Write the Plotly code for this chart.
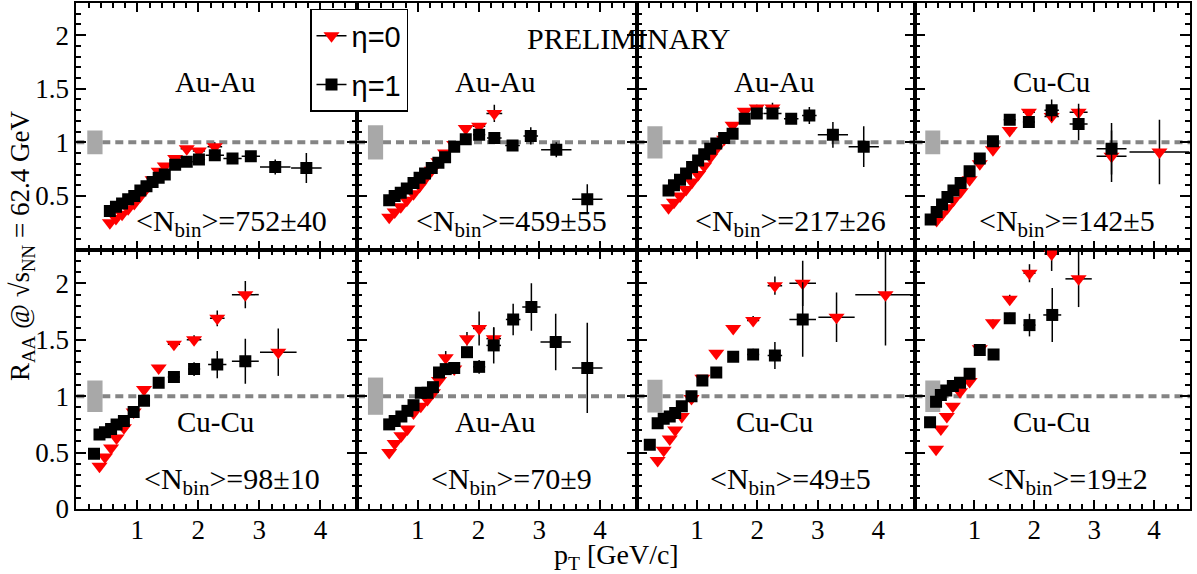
import plotly.graph_objects as go

# ---------------- data ----------------
SYSTEMS = ["Au-Au", "Au-Au", "Au-Au", "Cu-Cu", "Cu-Cu", "Au-Au", "Cu-Cu", "Cu-Cu"]
NBIN_LABELS = ["752±40", "459±55", "217±26", "142±5", "98±10", "70±9", "49±5", "19±2"]
NORM_UNC = [0.11, 0.16, 0.15, 0.11, 0.14, 0.165, 0.145, 0.14]

# panel 1 : Au-Au <Nbin>=752
eta1_pt_1 = [0.55, 0.65, 0.75, 0.85, 0.95, 1.05, 1.15, 1.25, 1.35, 1.45, 1.62, 1.81, 2.01, 2.27, 2.56, 2.86, 3.26, 3.77]
eta1_r_1 = [0.36, 0.40, 0.43, 0.47, 0.50, 0.55, 0.59, 0.63, 0.67, 0.70, 0.79, 0.82, 0.84, 0.88, 0.85, 0.87, 0.77, 0.76]
eta1_ex_1 = [0.05, 0.05, 0.05, 0.05, 0.05, 0.05, 0.05, 0.05, 0.05, 0.05, 0.08, 0.10, 0.10, 0.15, 0.15, 0.15, 0.25, 0.25]
eta1_ey_1 = [0.01, 0.01, 0.01, 0.01, 0.01, 0.01, 0.01, 0.01, 0.01, 0.01, 0.02, 0.02, 0.03, 0.03, 0.02, 0.05, 0.07, 0.14]
eta0_pt_1 = [0.55, 0.65, 0.75, 0.85, 0.95, 1.05, 1.15, 1.25, 1.35, 1.45, 1.62, 1.81, 2.01, 2.27]
eta0_r_1 = [0.25, 0.29, 0.33, 0.38, 0.43, 0.50, 0.57, 0.65, 0.73, 0.78, 0.85, 0.94, 0.92, 0.96]
eta0_ex_1 = [0.05, 0.05, 0.05, 0.05, 0.05, 0.05, 0.05, 0.05, 0.05, 0.05, 0.08, 0.10, 0.10, 0.12]
eta0_ey_1 = [0.01, 0.01, 0.01, 0.01, 0.01, 0.01, 0.01, 0.01, 0.01, 0.01, 0.02, 0.02, 0.02, 0.04]

# panel 2 : Au-Au <Nbin>=459
eta1_pt_2 = [0.53, 0.62, 0.72, 0.82, 0.93, 1.03, 1.12, 1.23, 1.34, 1.45, 1.60, 1.79, 2.01, 2.26, 2.56, 2.86, 3.28, 3.79]
eta1_r_2 = [0.46, 0.50, 0.53, 0.57, 0.62, 0.67, 0.71, 0.76, 0.81, 0.86, 0.96, 1.03, 1.07, 1.04, 0.97, 1.06, 0.93, 0.47]
eta1_ex_2 = [0.05, 0.05, 0.05, 0.05, 0.05, 0.05, 0.05, 0.05, 0.05, 0.05, 0.05, 0.08, 0.10, 0.12, 0.12, 0.12, 0.25, 0.25]
eta1_ey_2 = [0.01, 0.01, 0.01, 0.01, 0.01, 0.01, 0.01, 0.01, 0.01, 0.01, 0.02, 0.02, 0.03, 0.03, 0.03, 0.08, 0.07, 0.14]
eta0_pt_2 = [0.53, 0.62, 0.72, 0.82, 0.93, 1.03, 1.12, 1.23, 1.34, 1.45, 1.60, 1.79, 2.01, 2.26]
eta0_r_2 = [0.30, 0.35, 0.40, 0.46, 0.52, 0.59, 0.66, 0.74, 0.82, 0.90, 0.98, 1.13, 1.15, 1.27]
eta0_ex_2 = [0.05, 0.05, 0.05, 0.05, 0.05, 0.05, 0.05, 0.05, 0.05, 0.05, 0.05, 0.08, 0.10, 0.13]
eta0_ey_2 = [0.01, 0.01, 0.01, 0.01, 0.01, 0.01, 0.01, 0.01, 0.01, 0.01, 0.02, 0.02, 0.03, 0.08]

# panel 3 : Au-Au <Nbin>=217
eta1_pt_3 = [0.53, 0.62, 0.72, 0.82, 0.92, 1.02, 1.12, 1.22, 1.32, 1.45, 1.59, 1.79, 1.99, 2.25, 2.56, 2.86, 3.25, 3.76]
eta1_r_3 = [0.55, 0.60, 0.65, 0.71, 0.77, 0.83, 0.89, 0.94, 0.99, 1.04, 1.08, 1.22, 1.27, 1.27, 1.22, 1.25, 1.07, 0.96]
eta1_ex_3 = [0.05, 0.05, 0.05, 0.05, 0.05, 0.05, 0.05, 0.05, 0.05, 0.05, 0.05, 0.08, 0.10, 0.15, 0.12, 0.12, 0.25, 0.25]
eta1_ey_3 = [0.01, 0.01, 0.01, 0.01, 0.01, 0.01, 0.01, 0.01, 0.01, 0.01, 0.02, 0.02, 0.03, 0.03, 0.04, 0.08, 0.12, 0.19]
eta0_pt_3 = [0.53, 0.62, 0.72, 0.82, 0.92, 1.02, 1.12, 1.22, 1.32, 1.45, 1.59, 1.79, 1.99, 2.25]
eta0_r_3 = [0.39, 0.44, 0.50, 0.56, 0.63, 0.70, 0.78, 0.86, 0.94, 1.03, 1.16, 1.29, 1.32, 1.32]
eta0_ex_3 = [0.05, 0.05, 0.05, 0.05, 0.05, 0.05, 0.05, 0.05, 0.05, 0.05, 0.05, 0.08, 0.10, 0.12]
eta0_ey_3 = [0.01, 0.01, 0.01, 0.01, 0.01, 0.01, 0.01, 0.01, 0.01, 0.01, 0.02, 0.02, 0.03, 0.05]

# panel 4 : Cu-Cu <Nbin>=142
eta1_pt_4 = [0.27, 0.37, 0.46, 0.55, 0.65, 0.77, 0.92, 1.09, 1.31, 1.59, 1.91, 2.29, 2.74, 3.29]
eta1_r_4 = [0.28, 0.35, 0.42, 0.49, 0.55, 0.62, 0.73, 0.85, 1.01, 1.21, 1.19, 1.30, 1.17, 0.94]
eta1_ex_4 = [0.05, 0.05, 0.05, 0.05, 0.05, 0.05, 0.05, 0.05, 0.05, 0.10, 0.10, 0.12, 0.15, 0.25]
eta1_ey_4 = [0.01, 0.01, 0.01, 0.01, 0.01, 0.01, 0.01, 0.01, 0.02, 0.02, 0.03, 0.10, 0.15, 0.24]
eta0_pt_4 = [0.37, 0.46, 0.55, 0.65, 0.77, 0.92, 1.09, 1.31, 1.59, 1.91, 2.29, 2.74, 3.29, 4.09]
eta0_r_4 = [0.27, 0.33, 0.39, 0.46, 0.54, 0.65, 0.80, 0.93, 1.11, 1.28, 1.24, 1.28, 0.87, 0.91]
eta0_ex_4 = [0.05, 0.05, 0.05, 0.05, 0.05, 0.05, 0.05, 0.05, 0.08, 0.10, 0.12, 0.15, 0.25, 0.50]
eta0_ey_4 = [0.01, 0.01, 0.01, 0.01, 0.01, 0.01, 0.01, 0.02, 0.02, 0.03, 0.05, 0.08, 0.24, 0.30]

# panel 5 : Cu-Cu <Nbin>=98
eta1_pt_5 = [0.29, 0.38, 0.47, 0.57, 0.66, 0.78, 0.94, 1.11, 1.35, 1.60, 1.93, 2.31, 2.77]
eta1_r_5 = [0.49, 0.66, 0.68, 0.71, 0.75, 0.78, 0.86, 0.96, 1.12, 1.17, 1.24, 1.28, 1.31]
eta1_ex_5 = [0.05, 0.05, 0.05, 0.05, 0.05, 0.05, 0.05, 0.05, 0.05, 0.10, 0.10, 0.15, 0.22]
eta1_ey_5 = [0.01, 0.01, 0.01, 0.01, 0.01, 0.01, 0.01, 0.02, 0.02, 0.03, 0.06, 0.12, 0.20]
eta0_pt_5 = [0.38, 0.47, 0.57, 0.66, 0.78, 0.94, 1.11, 1.35, 1.60, 1.93, 2.31, 2.77, 3.31]
eta0_r_5 = [0.38, 0.46, 0.54, 0.63, 0.72, 0.86, 1.06, 1.25, 1.46, 1.50, 1.69, 1.90, 1.39]
eta0_ex_5 = [0.05, 0.05, 0.05, 0.05, 0.05, 0.05, 0.05, 0.05, 0.10, 0.12, 0.12, 0.22, 0.30]
eta0_ey_5 = [0.01, 0.01, 0.01, 0.01, 0.01, 0.01, 0.02, 0.02, 0.03, 0.04, 0.07, 0.12, 0.21]

# panel 6 : Au-Au <Nbin>=70
eta1_pt_6 = [0.53, 0.62, 0.73, 0.83, 0.93, 1.05, 1.16, 1.25, 1.35, 1.46, 1.60, 1.81, 2.01, 2.25, 2.57, 2.87, 3.27, 3.79]
eta1_r_6 = [0.75, 0.78, 0.82, 0.87, 0.92, 1.03, 1.03, 1.08, 1.21, 1.24, 1.25, 1.39, 1.26, 1.45, 1.68, 1.79, 1.48, 1.25]
eta1_ex_6 = [0.05, 0.05, 0.05, 0.05, 0.05, 0.05, 0.05, 0.05, 0.05, 0.05, 0.08, 0.08, 0.10, 0.12, 0.12, 0.15, 0.25, 0.25]
eta1_ey_6 = [0.01, 0.01, 0.01, 0.01, 0.01, 0.01, 0.01, 0.02, 0.02, 0.02, 0.03, 0.04, 0.06, 0.16, 0.14, 0.21, 0.25, 0.40]
eta0_pt_6 = [0.53, 0.62, 0.73, 0.83, 0.93, 1.05, 1.16, 1.25, 1.35, 1.46, 1.60, 1.81, 2.01, 2.25]
eta0_r_6 = [0.50, 0.58, 0.65, 0.71, 0.85, 0.91, 0.97, 1.03, 1.14, 1.34, 1.24, 1.51, 1.60, 1.51]
eta0_ex_6 = [0.05, 0.05, 0.05, 0.05, 0.05, 0.05, 0.05, 0.05, 0.05, 0.05, 0.08, 0.08, 0.10, 0.12]
eta0_ey_6 = [0.01, 0.01, 0.01, 0.01, 0.01, 0.01, 0.01, 0.02, 0.02, 0.06, 0.03, 0.06, 0.15, 0.10]

# panel 7 : Cu-Cu <Nbin>=49
eta1_pt_7 = [0.22, 0.35, 0.45, 0.55, 0.64, 0.75, 0.91, 1.09, 1.32, 1.60, 1.93, 2.29, 2.75]
eta1_r_7 = [0.57, 0.76, 0.80, 0.82, 0.85, 0.91, 1.00, 1.14, 1.21, 1.35, 1.37, 1.36, 1.68]
eta1_ex_7 = [0.05, 0.05, 0.05, 0.05, 0.05, 0.05, 0.05, 0.05, 0.05, 0.08, 0.10, 0.12, 0.22]
eta1_ey_7 = [0.01, 0.01, 0.01, 0.01, 0.01, 0.01, 0.01, 0.02, 0.02, 0.03, 0.05, 0.12, 0.33]
eta0_pt_7 = [0.35, 0.45, 0.55, 0.64, 0.75, 0.91, 1.09, 1.32, 1.60, 1.93, 2.29, 2.75, 3.31, 4.12]
eta0_r_7 = [0.43, 0.52, 0.62, 0.70, 0.82, 0.98, 1.16, 1.38, 1.60, 1.67, 1.98, 2.00, 1.70, 1.90]
eta0_ex_7 = [0.05, 0.05, 0.05, 0.05, 0.05, 0.05, 0.05, 0.05, 0.08, 0.10, 0.12, 0.22, 0.30, 0.50]
eta0_ey_7 = [0.01, 0.01, 0.01, 0.01, 0.01, 0.01, 0.02, 0.02, 0.03, 0.04, 0.08, 0.20, 0.22, 0.45]

# panel 8 : Cu-Cu <Nbin>=19
eta1_pt_8 = [0.26, 0.36, 0.44, 0.53, 0.64, 0.76, 0.92, 1.09, 1.32, 1.59, 1.92, 2.30]
eta1_r_8 = [0.77, 0.95, 1.01, 1.05, 1.09, 1.12, 1.20, 1.41, 1.37, 1.69, 1.63, 1.72]
eta1_ex_8 = [0.05, 0.05, 0.05, 0.05, 0.05, 0.05, 0.05, 0.05, 0.05, 0.08, 0.10, 0.15]
eta1_ey_8 = [0.01, 0.01, 0.01, 0.01, 0.01, 0.01, 0.02, 0.02, 0.03, 0.05, 0.10, 0.24]
eta0_pt_8 = [0.36, 0.44, 0.54, 0.64, 0.76, 0.92, 1.09, 1.31, 1.59, 1.92, 2.29, 2.74]
eta0_r_8 = [0.53, 0.71, 0.82, 0.91, 1.04, 1.13, 1.42, 1.65, 1.86, 2.09, 2.26, 2.04]
eta0_ex_8 = [0.05, 0.05, 0.05, 0.05, 0.05, 0.05, 0.05, 0.05, 0.08, 0.10, 0.12, 0.22]
eta0_ey_8 = [0.01, 0.01, 0.01, 0.01, 0.01, 0.01, 0.02, 0.03, 0.04, 0.08, 0.15, 0.25]

ETA1 = [
    (eta1_pt_1, eta1_r_1, eta1_ex_1, eta1_ey_1), (eta1_pt_2, eta1_r_2, eta1_ex_2, eta1_ey_2),
    (eta1_pt_3, eta1_r_3, eta1_ex_3, eta1_ey_3), (eta1_pt_4, eta1_r_4, eta1_ex_4, eta1_ey_4),
    (eta1_pt_5, eta1_r_5, eta1_ex_5, eta1_ey_5), (eta1_pt_6, eta1_r_6, eta1_ex_6, eta1_ey_6),
    (eta1_pt_7, eta1_r_7, eta1_ex_7, eta1_ey_7), (eta1_pt_8, eta1_r_8, eta1_ex_8, eta1_ey_8),
]
ETA0 = [
    (eta0_pt_1, eta0_r_1, eta0_ex_1, eta0_ey_1), (eta0_pt_2, eta0_r_2, eta0_ex_2, eta0_ey_2),
    (eta0_pt_3, eta0_r_3, eta0_ex_3, eta0_ey_3), (eta0_pt_4, eta0_r_4, eta0_ex_4, eta0_ey_4),
    (eta0_pt_5, eta0_r_5, eta0_ex_5, eta0_ey_5), (eta0_pt_6, eta0_r_6, eta0_ex_6, eta0_ey_6),
    (eta0_pt_7, eta0_r_7, eta0_ex_7, eta0_ey_7), (eta0_pt_8, eta0_r_8, eta0_ex_8, eta0_ey_8),
]

X_TICKS = [1, 2, 3, 4]
Y_TICKS_TOP = [0.5, 1, 1.5, 2]
Y_TICKS_BOTTOM = [0, 0.5, 1, 1.5, 2]

# ---------------- layout geometry ----------------
W, H = 1197, 574
ML, MR, MT, MB = 76, 7, 1, 65
PW, PH = W - ML - MR, H - MT - MB
col_px = [76.3, 357.0, 636.5, 914.5, 1190.0]
col_dom = [max(0.0, (p - ML) / PW) for p in col_px]
col_dom[-1] = 1.0
split = (509.0 - 248.5) / PH

SERIF = "Liberation Serif, Times New Roman, serif"
SANS = "Liberation Sans, Arial, sans-serif"
XR = [0, 4.6]
YR = [0, 2.3]

fig = go.Figure()
layout = dict(
    width=W, height=H,
    margin=dict(l=ML, r=MR, t=MT, b=MB),
    paper_bgcolor="white", plot_bgcolor="white",
    showlegend=True,
    legend=dict(
        x=(310 - ML) / PW, y=(H - MB - 7) / PH, xanchor="left", yanchor="top",
        bgcolor="white", bordercolor="black", borderwidth=1.5,
        font=dict(family=SANS, size=29, color="black"),
        tracegroupgap=8, traceorder="grouped", itemwidth=30,
    ),
)
shapes = []
annotations = []

for i in range(8):
    row = 0 if i < 4 else 1
    col = i % 4
    k = i + 1
    xa = "xaxis" if k == 1 else f"xaxis{k}"
    ya = "yaxis" if k == 1 else f"yaxis{k}"
    xref = "x" if k == 1 else f"x{k}"
    yref = "y" if k == 1 else f"y{k}"
    ydom = [split, 1.0] if row == 0 else [0.0, split]
    tick_font = dict(family=SERIF, size=27, color="black")
    layout[xa] = dict(
        domain=[col_dom[col], col_dom[col + 1]], anchor=yref, range=XR,
        showgrid=False, zeroline=False, showline=True, linecolor="black", linewidth=2,
        mirror="ticks", ticks="inside", ticklen=9, tickwidth=1.5, tickcolor="black",
        tickmode="array", tickvals=X_TICKS, ticktext=[str(v) for v in X_TICKS],
        showticklabels=(row == 1), tickfont=tick_font, ticklabelstandoff=-4,
        minor=dict(ticks="inside", ticklen=5, tickwidth=1.5, tickcolor="black",
                   tickmode="linear", tick0=0, dtick=0.2, showgrid=False),
    )
    yt = Y_TICKS_TOP if row == 0 else Y_TICKS_BOTTOM
    layout[ya] = dict(
        domain=ydom, anchor=xref, range=YR,
        showgrid=False, zeroline=False, showline=True, linecolor="black", linewidth=2,
        mirror="ticks", ticks="inside", ticklen=10, tickwidth=1.5, tickcolor="black",
        tickmode="array", tickvals=yt, ticktext=[f"{v:g}" for v in yt],
        showticklabels=(col == 0), tickfont=tick_font,
        minor=dict(ticks="inside", ticklen=5, tickwidth=1.5, tickcolor="black",
                   tickmode="linear", tick0=0, dtick=0.1, showgrid=False),
    )

    # reference line at R_AA = 1 and normalisation box
    shapes.append(dict(type="line", xref=xref, yref=yref, x0=XR[0], x1=XR[1], y0=1, y1=1,
                       line=dict(color="#858585", width=4, dash="8px,5px"), layer="below"))
    u = NORM_UNC[i]
    shapes.append(dict(type="rect", xref=xref, yref=yref, x0=0.18, x1=0.43, y0=1 - u, y1=1 + u,
                       fillcolor="#a8a8a8", line=dict(width=0), layer="below"))

    # data
    pt0, r0, ex0, ey0 = ETA0[i]
    pt1, r1, ex1, ey1 = ETA1[i]
    fig.add_trace(go.Scatter(
        x=pt0, y=r0, mode="markers", xaxis=xref, yaxis=yref, showlegend=False,
        marker=dict(symbol="triangle-down", size=14, color="red", line=dict(width=0)),
        error_x=dict(type="data", array=ex0, color="black", thickness=1.5, width=0),
        error_y=dict(type="data", array=ey0, color="black", thickness=1.5, width=0),
    ))
    fig.add_trace(go.Scatter(
        x=pt1, y=r1, mode="markers", xaxis=xref, yaxis=yref, showlegend=False,
        marker=dict(symbol="square", size=12, color="black", line=dict(width=0)),
        error_x=dict(type="data", array=ex1, color="black", thickness=1.5, width=0),
        error_y=dict(type="data", array=ey1, color="black", thickness=1.5, width=0),
    ))

    # labels
    sys_y = 1.56 if row == 0 else 0.77
    annotations.append(dict(x=2.28, y=sys_y, xref=xref, yref=yref, text=SYSTEMS[i],
                            showarrow=False, xanchor="center", yanchor="middle",
                            font=dict(family=SERIF, size=29, color="black")))
    annotations.append(dict(x=2.55, y=0.25, xref=xref, yref=yref,
                            text=f"&lt;N<sub>bin</sub>&gt;={NBIN_LABELS[i]}",
                            showarrow=False, xanchor="center", yanchor="middle",
                            font=dict(family=SERIF, size=30, color="black")))

# legend entries
fig.add_trace(go.Scatter(x=[None], y=[None], mode="lines+markers", name="η=0", legendgroup="a",
                         marker=dict(symbol="triangle-down", size=14, color="red"),
                         line=dict(color="black", width=1.5)))
fig.add_trace(go.Scatter(x=[None], y=[None], mode="lines+markers", name="η=1", legendgroup="b",
                         marker=dict(symbol="square", size=12, color="black"),
                         line=dict(color="black", width=1.5)))

annotations.append(dict(x=(628 - ML) / PW, y=(H - MB - 37) / PH, xref="paper", yref="paper",
                        text="PRELIMINARY", showarrow=False, xanchor="center", yanchor="middle",
                        font=dict(family=SERIF, size=30, color="black")))
annotations.append(dict(x=(22 - ML) / PW, y=(H - MB - 245) / PH, xref="paper", yref="paper",
                        text="R<sub>AA</sub> @ √s<sub>NN</sub> = 62.4 GeV", textangle=-90,
                        showarrow=False, xanchor="center", yanchor="middle",
                        font=dict(family=SERIF, size=27, color="black")))
annotations.append(dict(x=(616 - ML) / PW, y=(H - MB - 557) / PH, xref="paper", yref="paper",
                        text="p<sub>T</sub> [GeV/c]", showarrow=False,
                        xanchor="center", yanchor="middle",
                        font=dict(family=SERIF, size=28, color="black")))

layout["shapes"] = shapes
layout["annotations"] = annotations
fig.update_layout(**layout)
fig.write_html("out.html", config={"displayModeBar": False},
               post_script="document.body.style.margin='0px';")
